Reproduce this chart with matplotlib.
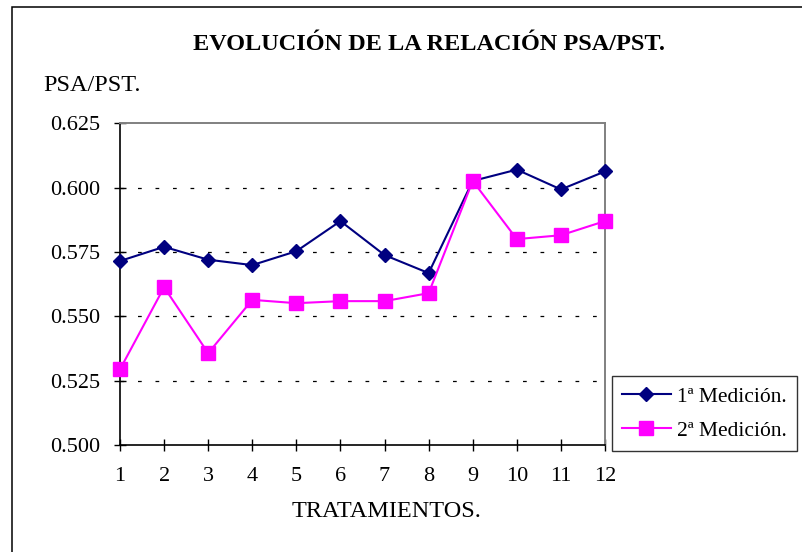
import matplotlib as mpl
import matplotlib.pyplot as plt
from matplotlib.patches import Rectangle

mpl.rcParams['font.family'] = ['Liberation Serif', 'DejaVu Serif']

# data
tratamientos = list(range(1, 13))
medicion_1 = [0.5715, 0.5770, 0.5720, 0.5699, 0.5753, 0.5870,
              0.5738, 0.5668, 0.6026, 0.6070, 0.5993, 0.6063]
medicion_2 = [0.5294, 0.5613, 0.5357, 0.5564, 0.5551, 0.5559,
              0.5559, 0.5590, 0.6026, 0.5800, 0.5815, 0.5870]
y_ticks = [0.500, 0.525, 0.550, 0.575, 0.600, 0.625]

W, H = 802, 552
fig = plt.figure(figsize=(W / 100, H / 100), dpi=100)

# outer chart border (left and top visible)
fig.patches.append(Rectangle((12 / W, -0.1), 1.2, 1 - 7 / H + 0.1,
                             transform=fig.transFigure, fill=False,
                             edgecolor='black', linewidth=1.1))

ax = fig.add_axes([120 / W, (H - 445) / H, 485 / W, 321.7 / H])

ax.plot(tratamientos, medicion_1, color='#000080', linewidth=1.5,
        marker='D', markersize=6.8, label='1ª Medición.', zorder=3)
ax.plot(tratamientos, medicion_2, color='#FF00FF', linewidth=1.5,
        marker='s', markersize=9.5, label='2ª Medición.', zorder=3)

ax.set_xlim(1, 12)
ax.set_ylim(0.500, 0.625)
ax.set_xticks(tratamientos)
ax.set_yticks(y_ticks)
ax.set_yticklabels(['%.3f' % v for v in y_ticks])

# dashed horizontal gridlines
for v in y_ticks[1:-1]:
    ax.axhline(v, color='black', linewidth=0.9, dashes=(3, 11), zorder=1)

ax.tick_params(axis='both', direction='inout', length=9, width=1,
               labelsize=16, colors='black')
ax.tick_params(axis='x', pad=11)
ax.tick_params(axis='y', pad=10)
ax.tick_params(top=False, right=False)

for side in ['left', 'bottom']:
    ax.spines[side].set_color('black')
    ax.spines[side].set_linewidth(1.2)
for side in ['top', 'right']:
    ax.spines[side].set_color('#808080')
    ax.spines[side].set_linewidth(1.4)
for ln in ax.lines:
    ln.set_clip_on(False)

# texts
fig.text(429 / W, 1 - 49.5 / H, 'EVOLUCIÓN DE LA RELACIÓN PSA/PST.',
         ha='center', va='baseline', fontsize=17.5, fontweight='bold')
fig.text(43 / W, 1 - 91 / H, 'PSA/PST.', ha='left', va='baseline',
         fontsize=17.5)
fig.text(386 / W, 1 - 517 / H, 'TRATAMIENTOS.', ha='center', va='baseline',
         fontsize=17.5)

leg = ax.legend(loc='lower left', bbox_to_anchor=(612 / W, (H - 451) / H),
                bbox_transform=fig.transFigure, borderaxespad=0,
                fontsize=15.5, frameon=True, fancybox=False, numpoints=1,
                handlelength=2.25, handletextpad=0.3, borderpad=0.47,
                labelspacing=0.66)
leg.get_frame().set_edgecolor('black')
leg.get_frame().set_linewidth(1.0)

fig.savefig('out.png', dpi=100)
